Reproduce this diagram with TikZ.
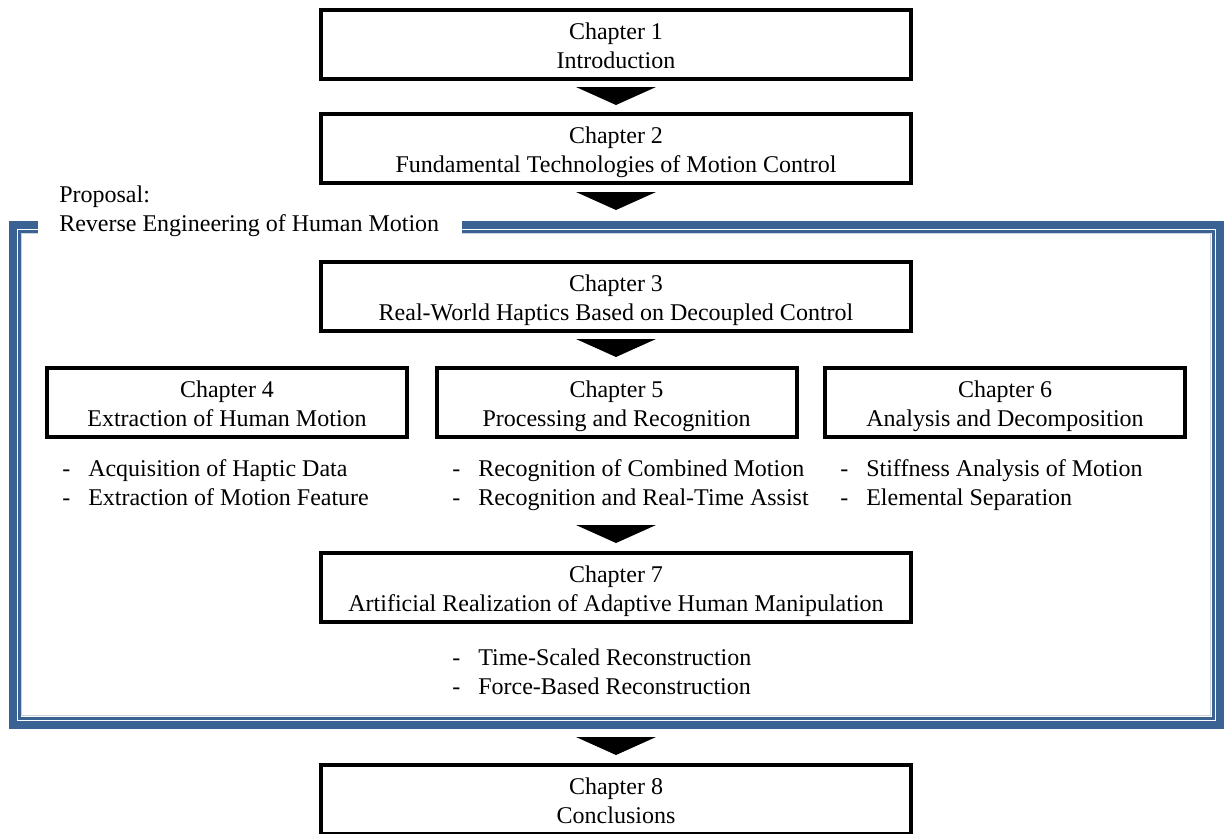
\documentclass[tikz,border=0pt]{standalone}
\usepackage{fontspec}
\setmainfont{Liberation Serif}
\usetikzlibrary{calc}

\definecolor{frameblue}{RGB}{58,98,146}
\definecolor{framelight}{RGB}{205,212,222}
\newcommand{\downtri}[1]{\fill #1 ++(-40,0) -- ++(80,0) -- ++(-40,18) -- cycle;}
\newcommand{\itemdash}{\makebox[19.5pt][l]{-}}
\newcommand{\twolinestrut}{\rule[-4pt]{0pt}{43.25pt}}

\begin{document}
\begin{tikzpicture}[x=0.75pt,y=-0.75pt,
  every node/.style={font=\fontsize{18}{21.75}\selectfont,
    execute at begin node=\twolinestrut},
  chap/.style={draw,line width=3pt,minimum width=442.5pt,minimum height=51.75pt,
    align=center,inner sep=0pt},
  subchap/.style={chap,minimum width=270pt},
  items/.style={anchor=west,align=left,inner sep=0pt}]

\useasboundingbox (0,0) rectangle (1225,833);

% frame of the proposal
\draw[frameblue,line width=6pt] (38,224.5) -| (13,725) -| (1220,224.5) -- (462,224.5);
\draw[frameblue,line width=2.25pt] (38,231) -| (19.5,718) -| (1213,231) -- (462,231);
\draw[framelight,line width=0.75pt] (38,233.5) -| (21.5,715.5) -| (1210.5,233.5) -- (462,233.5);
\node[anchor=west,align=left,inner sep=0pt] (prop) at (59,208)
  {Proposal:\\Reverse Engineering of Human Motion};

% chapters
\node[chap] (c1) at (616,44.5) {Chapter 1\\Introduction};
\node[chap] (c2) at (616,148.5) {Chapter 2\\Fundamental Technologies of Motion Control};
\node[chap] (c3) at (616,296.5) {Chapter 3\\Real-World Haptics Based on Decoupled Control};
\node[subchap] (c4) at (227,402.5) {Chapter 4\\Extraction of Human Motion};
\node[subchap] (c5) at (616.5,402.5) {Chapter 5\\Processing and Recognition};
\node[subchap] (c6) at (1005,402.5) {Chapter 6\\Analysis and Decomposition};
\node[chap] (c7) at (616,587.5) {Chapter 7\\Artificial Realization of Adaptive Human Manipulation};
\node[chap] (c8) at (616,799.5) {Chapter 8\\Conclusions};

% contents
\node[items] (l4) at (62,481.5)
  {\itemdash Acquisition of Haptic Data\\\itemdash Extraction of Motion Feature};
\node[items] (l5) at (452,481.5)
  {\itemdash Recognition of Combined Motion\\\itemdash Recognition and Real-Time Assist};
\node[items] (l6) at (840,481.5)
  {\itemdash Stiffness Analysis of Motion\\\itemdash Elemental Separation};
\node[items] (l7) at (452,670.5)
  {\itemdash Time-Scaled Reconstruction\\\itemdash Force-Based Reconstruction};

% flow
\downtri{($(c1.south)+(0,6)$)}
\downtri{($(c2.south)+(0,7)$)}
\downtri{($(c3.south)+(0,6)$)}
\downtri{($(c7.north)+(0,-26)$)}
\downtri{($(c8.north)+(0,-26)$)}
\end{tikzpicture}
\end{document}
